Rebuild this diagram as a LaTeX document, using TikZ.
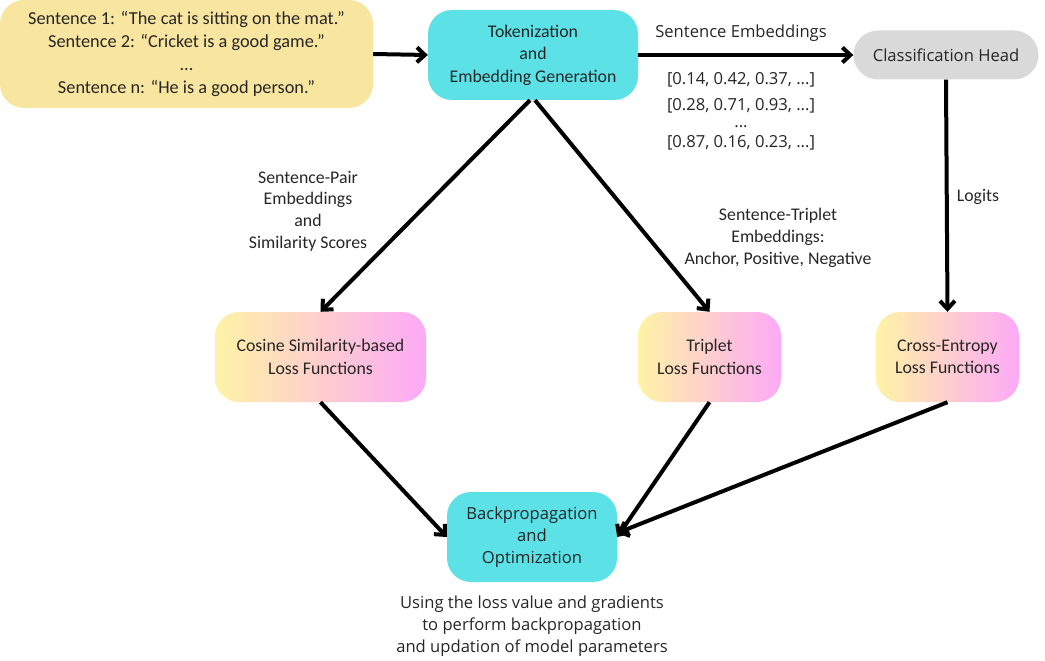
\documentclass[tikz,border=0pt]{standalone}
\usepackage{fontspec}
\setmainfont{Carlito}
\newfontfamily\wideff{Open Sans}
\usetikzlibrary{arrows.meta}
\definecolor{inyellow}{HTML}{F8E6A0}
\definecolor{cyanbox}{HTML}{5CE1E6}
\definecolor{greybox}{HTML}{D9D9D9}
\definecolor{gradL}{HTML}{FEF3A6}
\definecolor{gradR}{HTML}{FDA9F7}
\tikzset{
  txt/.style={font=\fontsize{17.8}{22.5}\selectfont, align=center, text=black!85},
  wtxt/.style={font=\wideff\fontsize{16.6}{22}\selectfont, align=center, text=black!85},
  box/.style={rounded corners=24pt, inner sep=0pt},
  lossbox/.style={box, left color=gradL, right color=gradR, shading angle=90},
  arr/.style={line width=4pt, -{Straight Barb[length=8pt,width=15pt]}},
}
\begin{document}
\begin{tikzpicture}[x=1pt,y=-1pt]
\useasboundingbox (0,0) rectangle (1045,661);
% boxes
\node[box, fill=inyellow, minimum width=373pt, minimum height=108pt, txt, font=\fontsize{18.3}{22.7}\selectfont] (in) at (186.5,54)
  {Sentence 1: “The cat is sitting on the mat.”\\Sentence 2: “Cricket is a good game.”\\...\\Sentence n: “He is a good person.”};
\node[box, fill=cyanbox, minimum width=210pt, minimum height=90pt, txt] (tok) at (533,55)
  {Tokenization\\and\\Embedding Generation};
\node[rounded corners=24.5pt, fill=greybox, minimum width=185pt, minimum height=49pt, inner sep=0pt, wtxt] (cls) at (946,55)
  {Classification Head};
\node[lossbox, minimum width=211pt, minimum height=90pt, txt] (cos) at (320.5,357)
  {Cosine Similarity-based\\Loss Functions};
\node[lossbox, minimum width=143pt, minimum height=90pt, txt] (tri) at (709.5,357)
  {Triplet\\Loss Functions};
\node[lossbox, minimum width=143pt, minimum height=90pt, txt] (ce) at (947.5,357)
  {Cross-Entropy\\Loss Functions};
\node[box, fill=cyanbox, minimum width=170pt, minimum height=90pt, wtxt] (bp) at (532,537)
  {Backpropagation\\and\\Optimization};
% labels
\node[wtxt] (cap) at (532,626) {Using the loss value and gradients\\to perform backpropagation\\and updation of model parameters};
\node[wtxt] (se) at (741,33) {Sentence Embeddings};
\node[wtxt, font=\wideff\fontsize{16.6}{26}\selectfont] (vec) at (741,111) {{[0.14, 0.42, 0.37, ...]}\\{[0.28, 0.71, 0.93, ...]}\\[-9pt]{...}\\[-6pt]{[0.87, 0.16, 0.23, ...]}};
\node[txt, font=\fontsize{17.8}{21.7}\selectfont] (pair) at (308,211) {Sentence-Pair\\Embeddings\\and\\Similarity Scores};
\node[txt, font=\fontsize{17.8}{21.7}\selectfont] (trip) at (778,238) {Sentence-Triplet\\Embeddings:\\Anchor, Positive, Negative};
\node[txt] (lg) at (978,197) {Logits};
% connectors
\draw[arr] (in.east) -- (tok.west);
\draw[arr] (tok.east) -- (cls.west);
\draw[arr] ([xshift=-3pt]tok.south) -- (cos.north);
\draw[arr] ([xshift=2pt]tok.south) -- (tri.north);
\draw[arr] (cls.south) -- (ce.north);
\draw[arr] (cos.south) -- (bp.west);
\draw[arr] (tri.south) -- (bp.east);
\draw[arr] (ce.south) -- ([yshift=4pt]bp.east);
\end{tikzpicture}
\end{document}
